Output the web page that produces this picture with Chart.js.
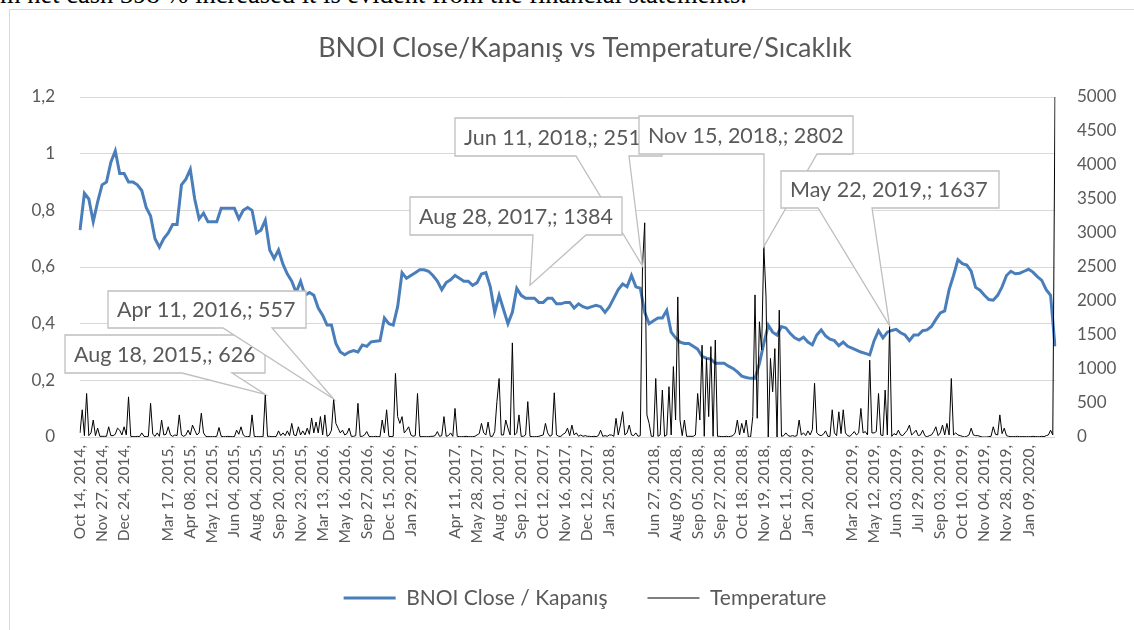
<!DOCTYPE html>
<html>
<head>
<meta charset="utf-8">
<script src="https://cdn.jsdelivr.net/npm/chart.js@4.4.1/dist/chart.umd.min.js"></script>
<style>
    html, body { margin: 0; padding: 0; background: #fff; width: 1134px; height: 630px; overflow: hidden; position: relative; }
    #doc { position: absolute; left: 0; top: -21px; font: 26.5px "Liberation Serif", serif; line-height: 30px; white-space: nowrap; color: #000; }
    #frame { position: absolute; left: 9px; top: 9px; width: 1140px; height: 640px; border: 1px solid #d9d9d9; }
    #wrap { position: absolute; left: 0; top: 0; width: 1170px; height: 630px; }
</style>
</head>
<body>
<div id="doc">m net cash 398 % increased it is evident from the financial statements.</div>
<div id="frame"></div>
<div id="wrap"><canvas id="chart" width="1170" height="630"></canvas></div>
<script>
// one label every 10 temperature readings, blanks where the picture shows none
const slotLabels = [
    'Oct 14, 2014,', 'Nov 27, 2014,', 'Dec 24, 2014,', '', 'Mar 17, 2015,', 'Apr 08, 2015,',
    'May 12, 2015,', 'Jun 04, 2015,', 'Aug 04, 2015,', 'Sep 20, 2015,', 'Nov 23, 2015,',
    'Mar 13, 2016,', 'May 16, 2016,', 'Sep 27, 2016,', 'Dec 15, 2016,', 'Jan 29, 2017,', '',
    'Apr 11, 2017,', 'May 28, 2017,', 'Aug 01, 2017,', 'Sep 12, 2017,', 'Oct 12, 2017,',
    'Nov 16, 2017,', 'Dec 12, 2017,', 'Jan 25, 2018,', '', 'Jun 27, 2018,', 'Aug 09, 2018,',
    'Sep 05, 2018,', 'Sep 27, 2018,', 'Oct 18, 2018,', 'Nov 19, 2018,', 'Dec 11, 2018,',
    'Jan 20, 2019,', '', 'Mar 20, 2019,', 'May 12, 2019,', 'Jun 03, 2019,', 'Jul 29, 2019,',
    'Sep 03, 2019,', 'Oct 10, 2019,', 'Nov 04, 2019,', 'Nov 28, 2019,', 'Jan 09, 2020,'
];
const perSlot = 10;

const leftTicks = ['0', '0,2', '0,4', '0,6', '0,8', '1', '1,2'];
const rightTicks = ['0', '500', '1000', '1500', '2000', '2500', '3000', '3500', '4000', '4500', '5000'];

// BNOI close, sampled half as densely as temperature
const closePrice = [
    0.73, 0.86, 0.84, 0.76, 0.83, 0.89, 0.90, 0.97, 1.01, 0.93,
    0.93, 0.90, 0.90, 0.89, 0.87, 0.81, 0.78, 0.70, 0.67, 0.70,
    0.72, 0.75, 0.75, 0.89, 0.91, 0.945, 0.84, 0.77, 0.79, 0.76,
    0.76, 0.76, 0.807, 0.807, 0.807, 0.807, 0.77, 0.80, 0.81, 0.80,
    0.72, 0.73, 0.765, 0.66, 0.63, 0.66, 0.61, 0.575, 0.55, 0.51,
    0.55, 0.50, 0.51, 0.50, 0.455, 0.43, 0.395, 0.395, 0.33, 0.30,
    0.29, 0.30, 0.305, 0.30, 0.325, 0.32, 0.336, 0.338, 0.34, 0.42,
    0.40, 0.395, 0.46, 0.58, 0.56, 0.57, 0.58, 0.59, 0.59, 0.585,
    0.57, 0.55, 0.52, 0.545, 0.555, 0.57, 0.56, 0.55, 0.55, 0.535,
    0.545, 0.575, 0.58, 0.53, 0.44, 0.50, 0.45, 0.40, 0.44, 0.525,
    0.50, 0.49, 0.49, 0.49, 0.475, 0.475, 0.49, 0.49, 0.47, 0.47,
    0.475, 0.475, 0.455, 0.47, 0.46, 0.455, 0.46, 0.465, 0.46, 0.44,
    0.46, 0.49, 0.52, 0.54, 0.53, 0.57, 0.53, 0.525, 0.44, 0.40,
    0.41, 0.42, 0.42, 0.447, 0.37, 0.35, 0.335, 0.33, 0.33, 0.32,
    0.31, 0.285, 0.278, 0.275, 0.26, 0.26, 0.26, 0.25, 0.242, 0.23,
    0.215, 0.21, 0.207, 0.207, 0.26, 0.33, 0.395, 0.37, 0.36, 0.39,
    0.385, 0.365, 0.35, 0.342, 0.352, 0.335, 0.325, 0.36, 0.378, 0.357,
    0.345, 0.34, 0.322, 0.335, 0.32, 0.314, 0.307, 0.30, 0.295, 0.29,
    0.34, 0.375, 0.35, 0.37, 0.376, 0.38, 0.368, 0.36, 0.34, 0.36,
    0.36, 0.375, 0.378, 0.39, 0.415, 0.438, 0.445, 0.52, 0.57, 0.626,
    0.612, 0.607, 0.585, 0.528, 0.518, 0.50, 0.485, 0.483, 0.50, 0.53,
    0.57, 0.585, 0.576, 0.578, 0.585, 0.592, 0.582, 0.566, 0.553, 0.52,
    0.50, 0.32
];

const temperature = [
    60, 400, 20, 640, 20, 60, 250, 20, 130, 10,
    10, 10, 10, 150, 20, 20, 40, 130, 100, 30,
    150, 30, 590, 10, 5, 5, 10, 5, 60, 10,
    5, 10, 495, 40, 10, 60, 10, 250, 30, 40,
    150, 30, 10, 30, 20, 325, 30, 10, 30, 100,
    30, 175, 100, 30, 60, 350, 60, 10, 5, 5,
    5, 5, 10, 140, 10, 5, 5, 10, 5, 5,
    5, 100, 40, 150, 30, 5, 5, 10, 325, 10,
    5, 5, 5, 5, 626, 10, 10, 5, 5, 10,
    90, 20, 60, 20, 90, 20, 200, 30, 20, 150,
    30, 90, 30, 130, 40, 280, 60, 220, 60, 300,
    30, 325, 10, 30, 100, 557, 200, 130, 60, 100,
    30, 50, 130, 10, 10, 20, 495, 10, 10, 30,
    80, 10, 5, 5, 10, 5, 5, 250, 60, 400,
    10, 5, 10, 935, 300, 200, 300, 60, 100, 150,
    30, 10, 20, 640, 10, 5, 5, 5, 5, 10,
    10, 20, 80, 10, 20, 300, 10, 20, 60, 10,
    420, 10, 5, 5, 5, 10, 5, 5, 5, 10,
    30, 50, 200, 60, 30, 220, 10, 10, 80, 520,
    860, 30, 30, 250, 130, 30, 1384, 30, 60, 325,
    10, 10, 30, 520, 10, 5, 5, 5, 10, 20,
    30, 200, 60, 10, 30, 650, 30, 10, 10, 40,
    60, 130, 20, 175, 30, 60, 10, 30, 10, 20,
    10, 10, 5, 10, 5, 20, 100, 10, 20, 10,
    30, 30, 10, 275, 30, 175, 372, 30, 60, 175,
    30, 20, 60, 10, 20, 2515, 3150, 325, 200, 10,
    10, 860, 10, 30, 690, 10, 30, 740, 30, 1035,
    250, 2060, 250, 20, 250, 10, 10, 10, 10, 30,
    640, 250, 1350, 10, 1155, 300, 1330, 10, 1425, 10,
    10, 5, 5, 10, 5, 10, 20, 60, 250, 30,
    200, 60, 250, 0, 0, 300, 2090, 275, 1695, 1280,
    2802, 2060, 0, 1155, 665, 1300, 0, 1865, 10, 20,
    60, 20, 10, 20, 10, 20, 250, 30, 60, 20,
    90, 30, 110, 790, 60, 30, 20, 40, 90, 10,
    10, 400, 60, 20, 370, 50, 400, 60, 20, 10,
    40, 80, 30, 60, 420, 60, 80, 30, 1130, 60,
    60, 80, 640, 30, 20, 690, 30, 1637, 10, 50,
    30, 100, 30, 20, 60, 100, 175, 30, 60, 100,
    20, 30, 100, 20, 0, 20, 30, 80, 150, 20,
    60, 175, 30, 200, 30, 860, 30, 60, 30, 20,
    10, 0, 10, 30, 130, 30, 20, 20, 10, 0,
    0, 0, 5, 10, 150, 40, 30, 325, 50, 130,
    20, 10, 5, 5, 5, 10, 5, 5, 5, 5,
    5, 5, 10, 5, 5, 5, 10, 5, 20, 30,
    100, 30, 5000
];

// data label callouts: box and wedge base in px, tip taken from the point
const callouts = [
    { text: 'Aug 18, 2015,; 626', series: 'temp', index: 84, box: [65, 335, 200, 38], base: [182, 232] },
    { text: 'Apr 11, 2016,; 557', series: 'temp', index: 115, box: [108, 291, 198, 37], base: [223, 272] },
    { text: 'Jun 11, 2018,; 2515', series: 'temp', index: 255, box: [455, 118, 207, 38], base: [576, 629] },
    { text: 'Aug 28, 2017,; 1384', series: 'close', index: 102, dy: -13, box: [410, 197, 212, 38], base: [533, 586] },
    { text: 'Nov 15, 2018,; 2802', series: 'temp', index: 310, box: [639, 116, 214, 38], base: [764, 817] },
    { text: 'May 22, 2019,; 1637', series: 'temp', index: 367, box: [781, 171, 218, 37], base: [818, 872] }
];

const tempLabels = temperature.map((v, i) => (i % perSlot === 0 ? (slotLabels[i / perSlot] || '') : ''));
const closeLabels = closePrice.map(() => '');

const calloutPlugin = {
    id: 'callouts',
    afterDatasetsDraw(chart) {
        const ctx = chart.ctx;
        ctx.save();
        callouts.forEach(c => {
            let tx, ty;
            if (c.series === 'temp') {
                tx = chart.scales.x.getPixelForValue(c.index);
                ty = chart.scales.y1.getPixelForValue(temperature[c.index]);
            } else {
                tx = chart.scales.xb.getPixelForValue(c.index);
                ty = chart.scales.y.getPixelForValue(closePrice[c.index]);
            }
            ty += c.dy || 0;
            const [x, y, w, h] = c.box;
            ctx.beginPath();
            ctx.moveTo(x, y);
            ctx.lineTo(x + w, y);
            ctx.lineTo(x + w, y + h);
            ctx.lineTo(c.base[1], y + h);
            ctx.lineTo(tx, ty);
            ctx.lineTo(c.base[0], y + h);
            ctx.lineTo(x, y + h);
            ctx.closePath();
            ctx.fillStyle = '#fff';
            ctx.fill();
            ctx.strokeStyle = '#bfbfbf';
            ctx.lineWidth = 1.3;
            ctx.stroke();
            ctx.fillStyle = '#595959';
            ctx.font = '21.5px Lato';
            ctx.textBaseline = 'middle';
            ctx.fillText(c.text, x + 9, y + h / 2 + 1);
        });
        ctx.restore();
    }
};

Chart.defaults.font.family = 'Lato';
Chart.defaults.color = '#595959';

new Chart(document.getElementById('chart'), {
    type: 'line',
    data: {
        labels: tempLabels,
        datasets: [
            {
                label: 'BNOI Close / Kapanış',
                data: closePrice,
                xAxisID: 'xb',
                yAxisID: 'y',
                borderColor: '#4a7ebb',
                borderWidth: 3,
                pointRadius: 0,
                tension: 0,
                order: 2
            },
            {
                label: 'Temperature',
                data: temperature,
                xAxisID: 'x',
                yAxisID: 'y1',
                borderColor: '#000',
                borderWidth: 1,
                pointRadius: 0,
                tension: 0,
                order: 1
            }
        ]
    },
    options: {
        responsive: false,
        animation: false,
        devicePixelRatio: 1,
        layout: { padding: { left: 0, right: 0, top: 0, bottom: 11.5 } },
        scales: {
            x: {
                type: 'category',
                position: 'bottom',
                grid: { display: false, drawTicks: false },
                border: { display: false },
                ticks: {
                    autoSkip: false,
                    minRotation: 90,
                    maxRotation: 90,
                    padding: 8,
                    color: '#595959',
                    font: { size: 15.5 },
                    callback: (v, i) => (i % perSlot === 0 && tempLabels[i] ? tempLabels[i] : null)
                },
                afterFit: s => { s.height = 110.5; }
            },
            xb: {
                type: 'category',
                labels: closeLabels,
                display: false
            },
            y: {
                position: 'left',
                min: 0,
                max: 1.2,
                ticks: { stepSize: 0.2, padding: 25, font: { size: 17 }, callback: (v, i) => leftTicks[i] },
                grid: { color: '#d9d9d9', drawTicks: false },
                border: { display: false },
                afterFit: s => { s.width = 80; }
            },
            y1: {
                position: 'right',
                min: 0,
                max: 5000,
                ticks: { stepSize: 500, padding: 22, font: { size: 17 }, callback: (v, i) => rightTicks[i] },
                grid: { display: false, drawTicks: false },
                border: { display: false },
                afterFit: s => { s.width = 115; }
            }
        },
        plugins: {
            title: {
                display: true,
                text: 'BNOI Close/Kapanış vs Temperature/Sıcaklık',
                color: '#595959',
                font: { size: 27, weight: 'normal' },
                padding: { top: 32, bottom: 32.6 }
            },
            legend: {
                position: 'bottom',
                labels: {
                    usePointStyle: true,
                    pointStyle: 'line',
                    pointStyleWidth: 52,
                    padding: 40,
                    color: '#595959',
                    font: { size: 21 },
                    sort: (a, b) => a.datasetIndex - b.datasetIndex
                }
            },
            tooltip: { enabled: false }
        }
    },
    plugins: [calloutPlugin]
});
</script>
</body>
</html>
